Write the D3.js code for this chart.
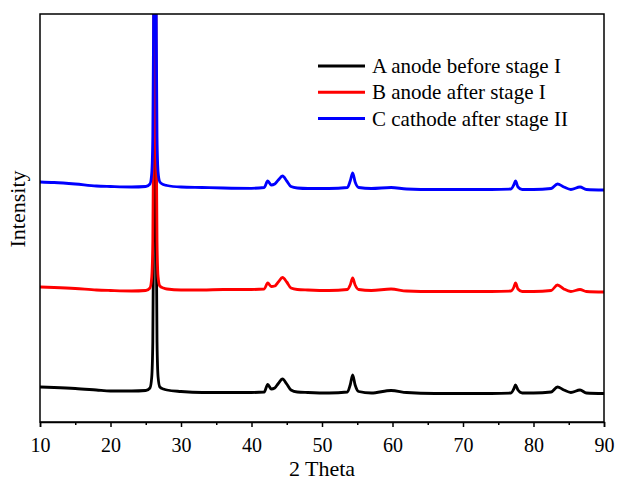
<!DOCTYPE html>
<html>
<head>
<meta charset="utf-8">
<script src="https://cdn.jsdelivr.net/npm/d3@7"></script>
<style>
  html, body { margin: 0; padding: 0; background: #fff; }
  svg { display: block; }
  text { font-family: "Liberation Serif", "Times New Roman", serif; fill: #000; }
</style>
</head>
<body>
<svg id="chart" width="617" height="483"></svg>
<script>
// ---- data ----
const theta = [10,12,15,18,20,23,25,25.6,25.85,26.0,26.1,26.2,26.3,26.4,26.5,26.6,26.75,27.0,27.5,28,30,33,36,40,
  41.8,42.3,42.8,43.3,43.8,44.4,45.0,45.6,46.5,48,51,53.6,54.0,54.35,54.7,55.2,57,59.8,62,66,70,74,
  76.8,77.2,77.45,77.8,78.4,80,82.5,83.4,84.3,85.3,86.6,87.5,90];

const seriesA = [35,34.5,33.5,32,31,31,31.5,34,45,80,180,430,1500,430,180,80,45,35,33,32,30.5,29.5,29.5,29.5,
  30,37.5,33,34,38.5,43,38,32,30,29.5,29,30,37,47,37,30.5,29,31.5,29.5,28.5,28.5,28.5,
  29,33,37,32,29,29,30,35,32,29.5,32,29,28.5];

const seriesB = [135,134.5,133.5,132,131.5,131,131.5,134,145,180,280,530,1600,530,280,180,145,136,134,133,132,132,132.5,132.5,
  133,139,135.5,136,140,144.5,140,134,132.5,132,131.5,132.5,137,144,137,132.5,131.5,133,131,130.5,130.5,130.5,
  131,134.5,139,133,130.5,130.5,131.5,137,133,130.5,132.5,130.5,130];

const seriesC = [240,239.5,238,236,235.5,235,235.5,238,249,285,385,635,1700,635,385,285,250,240,237.5,236.5,235,234.5,234,233.7,
  234.5,241,237,238,242,246,241,235.5,234,233.5,233.5,234.5,241,249,240,234.5,233.5,234.5,233,232.5,232.5,232.5,
  233,237,241,235,232.5,232.5,233.5,238,235,232.5,235,232.5,232];

const seriesNames = ["A anode before stage I", "B anode after stage I", "C cathode after stage II"];
const seriesColors = ["#000000", "#ff0000", "#0000ff"];
const xTicks = [10,20,30,40,50,60,70,80,90];
const xMinorTicks = [15,25,35,45,55,65,75,85];
const xLabel = "2 Theta";
const yLabel = "Intensity";

// ---- layout ----
const svg = d3.select("#chart");
const L = 40, R = 604, T = 14, B = 422;

const x = d3.scaleLinear().domain([10, 90]).range([L, R]);
const y = d3.scaleLinear().domain([0, 408]).range([B, T]);

svg.append("defs").append("clipPath").attr("id", "plotclip")
  .append("rect").attr("x", L).attr("y", T).attr("width", R - L).attr("height", B - T);

const allSeries = [seriesA, seriesB, seriesC];
const line = d3.line()
  .x((d, i) => x(theta[i]))
  .y(d => y(d))
  .curve(d3.curveMonotoneX);

const g = svg.append("g").attr("clip-path", "url(#plotclip)");
allSeries.forEach((s, k) => {
  g.append("path")
    .datum(s)
    .attr("d", line)
    .attr("fill", "none")
    .attr("stroke", seriesColors[k])
    .attr("stroke-width", 2.8)
    .attr("stroke-linejoin", "round");
});

// frame
svg.append("rect")
  .attr("x", L).attr("y", T).attr("width", R - L).attr("height", B - T)
  .attr("fill", "none").attr("stroke", "#000").attr("stroke-width", 1.5);

// x axis
const xAxis = d3.axisBottom(x)
  .tickValues(xTicks)
  .tickSize(5)
  .tickPadding(11)
  .tickFormat(d3.format("d"));
const ax = svg.append("g").attr("transform", `translate(0,${B})`).call(xAxis);
ax.select(".domain").attr("stroke", "#000").attr("stroke-width", 1.5);
ax.selectAll(".tick line").attr("stroke", "#000").attr("stroke-width", 1.5);
ax.selectAll(".tick text")
  .style("font-family", '"Liberation Serif", "Times New Roman", serif')
  .style("font-size", "20px").attr("fill", "#000");

const axMinor = d3.axisBottom(x).tickValues(xMinorTicks).tickSize(3).tickFormat("");
const am = svg.append("g").attr("transform", `translate(0,${B})`).call(axMinor);
am.select(".domain").remove();
am.selectAll(".tick line").attr("stroke", "#000").attr("stroke-width", 1.5);

// axis titles
svg.append("text")
  .attr("x", (L + R) / 2).attr("y", 476)
  .attr("text-anchor", "middle")
  .style("font-size", "22px")
  .text(xLabel);

svg.append("text")
  .attr("transform", "translate(25,209) rotate(-90)")
  .attr("text-anchor", "middle")
  .style("font-size", "22px")
  .text(yLabel);

// legend
const legend = svg.append("g");
seriesNames.forEach((name, k) => {
  const ly = 66 + k * 26.3;
  legend.append("line")
    .attr("x1", 318).attr("x2", 365).attr("y1", ly).attr("y2", ly)
    .attr("stroke", seriesColors[k]).attr("stroke-width", 3);
  legend.append("text")
    .attr("x", 372).attr("y", ly + 7)
    .style("font-size", "21px")
    .text(name);
});
</script>
</body>
</html>
